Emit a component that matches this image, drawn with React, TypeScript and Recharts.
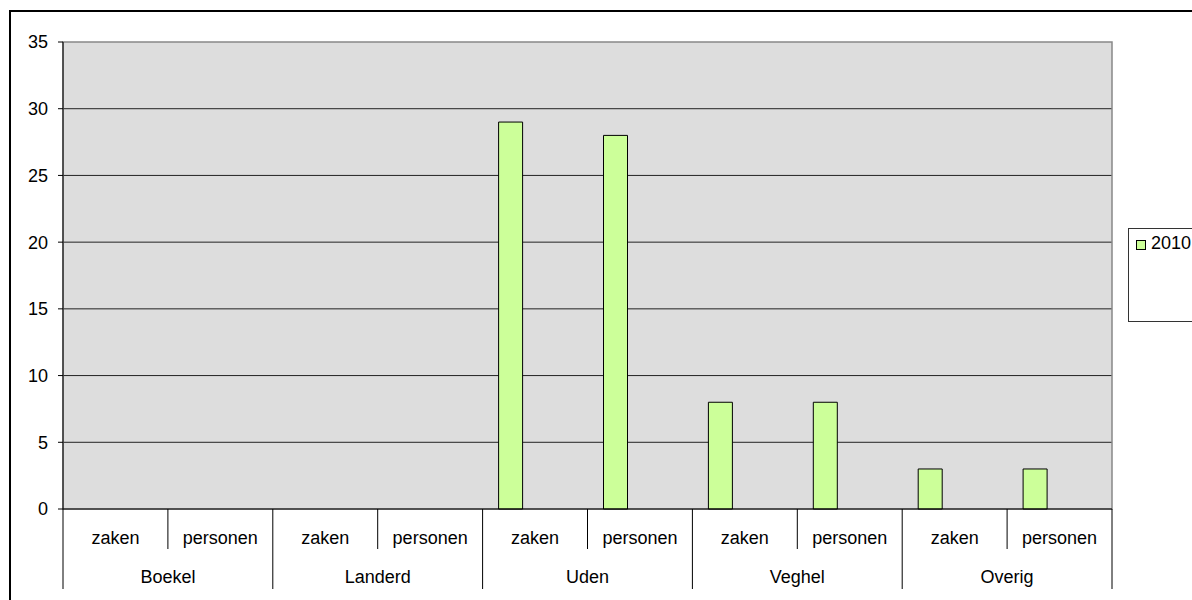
import React from "react";
import { Bar, BarChart, CartesianGrid, ReferenceArea, XAxis, YAxis } from "recharts";

const groups = ["Boekel", "Landerd", "Uden", "Veghel", "Overig"];
const subLabels = ["zaken", "personen"];
// 2010 values per group: [zaken, personen]; null = no bar shown
const values2010: (number | null)[][] = [
  [null, null],
  [null, null],
  [29, 28],
  [8, 8],
  [3, 3],
];
const yTicks = [0, 5, 10, 15, 20, 25, 30, 35];
const legendLabel = "2010";

const data = groups.flatMap((g, gi) =>
  subLabels.map((s, si) => ({ group: g, sub: s, v2010: values2010[gi][si] }))
);

const W = 1192;
const H = 600;
const LEFT = 63;
const RIGHT = 80;
const TOP = 42;
const AXIS_H = 80;
const BOTTOM = 11;
const PLOT_BOTTOM = H - BOTTOM - AXIS_H;
const BAND = (W - LEFT - RIGHT) / data.length;
const FONT = "'Liberation Sans', Arial, sans-serif";
const FS = 18;

function TwoLevelTick(props: any) {
  const { x, payload } = props;
  const i = payload.index as number;
  const row = data[i];
  const left = x - BAND / 2;
  const right = x + BAND / 2;
  const lastInGroup = i % 2 === 1;
  return (
    <g>
      <text x={x} y={PLOT_BOTTOM + 35} textAnchor="middle" fontSize={FS} fill="#000" fontFamily={FONT}>
        {row.sub}
      </text>
      {i === 0 && <line x1={left} x2={left} y1={PLOT_BOTTOM} y2={PLOT_BOTTOM + 80} stroke="#000" />}
      <line
        x1={right}
        x2={right}
        y1={PLOT_BOTTOM}
        y2={PLOT_BOTTOM + (lastInGroup ? 80 : 40)}
        stroke="#000"
      />
      {lastInGroup && (
        <text x={left} y={PLOT_BOTTOM + 74} textAnchor="middle" fontSize={FS} fill="#000" fontFamily={FONT}>
          {row.group}
        </text>
      )}
    </g>
  );
}

export default function App() {
  return (
    <div
      style={{
        position: "absolute",
        left: 0,
        top: 0,
        width: W,
        height: H,
        overflow: "hidden",
        background: "#fff",
        fontFamily: FONT,
      }}
    >
      <div
        style={{
          position: "absolute",
          left: 9,
          top: 10,
          width: 1300,
          height: 700,
          border: "2px solid #000",
        }}
      />
      <div style={{ position: "absolute", left: 0, top: 0 }}>
        <BarChart
          width={W}
          height={H}
          data={data}
          margin={{ top: TOP, right: RIGHT, left: 0, bottom: BOTTOM }}
          barGap={0}
          barSize={24}
        >
          <CartesianGrid
            fill="#DDDDDD"
            fillOpacity={1}
            vertical={false}
            stroke="#222"
            horizontalValues={[5, 10, 15, 20, 25, 30]}
          />
          <ReferenceArea y1={0} y2={35} fill="none" stroke="#888" strokeWidth={1.5} />
          <XAxis
            dataKey="sub"
            height={AXIS_H}
            interval={0}
            tickLine={false}
            axisLine={{ stroke: "#000" }}
            tick={<TwoLevelTick />}
          />
          <YAxis
            width={LEFT}
            domain={[0, 35]}
            ticks={yTicks}
            interval={0}
            tickSize={5}
            tickMargin={10}
            tickLine={{ stroke: "#000" }}
            axisLine={{ stroke: "#000" }}
            tick={{ fill: "#000", fontSize: FS, fontFamily: FONT }}
          />
          <Bar dataKey="v2010" fill="#CCFF99" stroke="#000" strokeWidth={1} isAnimationActive={false} />
          {/* empty series from the source sheet, they keep the 2010 bar left of centre */}
          <Bar dataKey="s2" fill="#9999FF" isAnimationActive={false} />
          <Bar dataKey="s3" fill="#993366" isAnimationActive={false} />
        </BarChart>
      </div>
      <div
        style={{
          position: "absolute",
          left: 1128,
          top: 228,
          width: 100,
          height: 92,
          border: "1px solid #333",
          background: "#fff",
        }}
      >
        <div
          style={{
            position: "absolute",
            left: 7,
            top: 11,
            width: 8,
            height: 8,
            background: "#CCFF99",
            border: "1px solid #000",
          }}
        />
        <div
          style={{ position: "absolute", left: 22, top: 4, fontSize: FS, lineHeight: "20px", color: "#000" }}
        >
          {legendLabel}
        </div>
      </div>
    </div>
  );
}
